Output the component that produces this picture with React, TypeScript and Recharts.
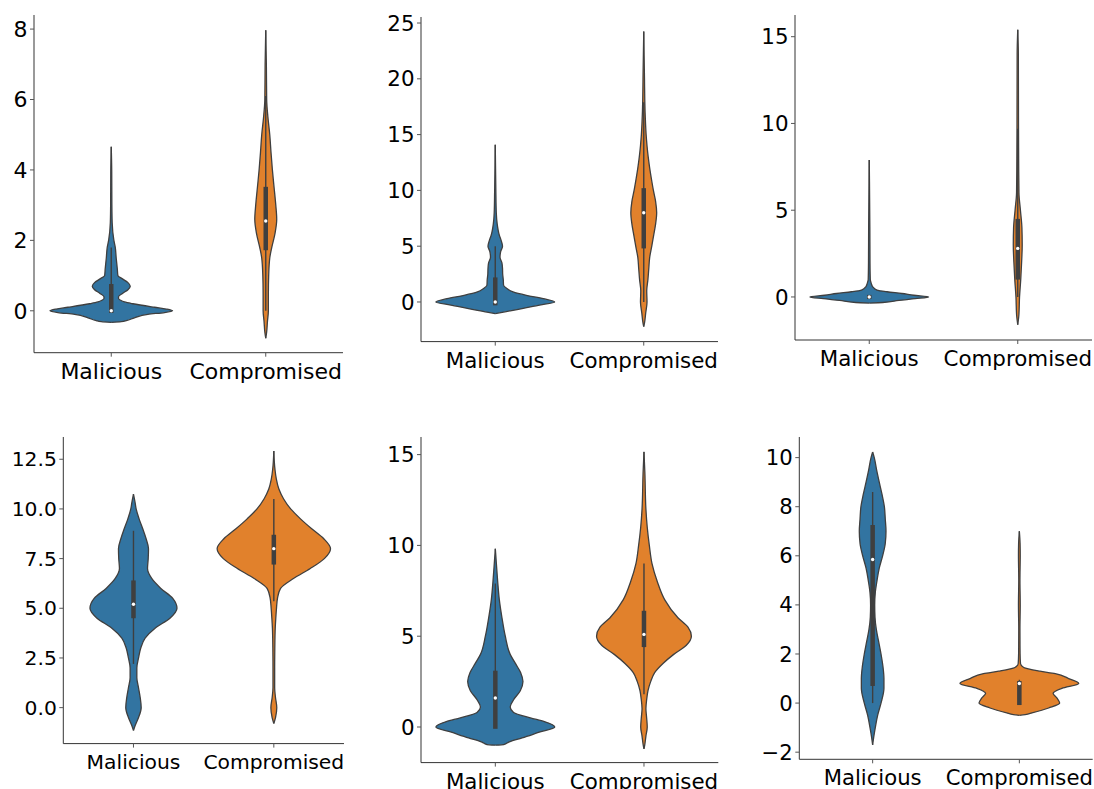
import React from 'react';
import { ComposedChart, Area, XAxis, YAxis, ReferenceLine, ReferenceDot } from 'recharts';

const CATS = ['Malicious', 'Compromised'];
const COLORS = ['#3274a1', '#e1812c'];
const EDGE = '#3f3f3f';

// violin outlines: value levels (v) and half width at that level, in category units
const P1_MAL_V = [-0.33, -0.31, -0.28, -0.2, -0.1, -0.05, 0, 0.05, 0.1, 0.2, 0.25, 0.3, 0.35, 0.4, 0.5, 0.6, 0.7, 0.8, 0.9, 1.0, 1.2, 1.5, 1.8, 2.0, 2.5, 3.0, 4.0, 4.66];
const P1_MAL_W = [0, 0.065, 0.097, 0.15, 0.237, 0.345, 0.397, 0.356, 0.28, 0.14, 0.086, 0.06, 0.047, 0.047, 0.075, 0.108, 0.123, 0.108, 0.075, 0.043, 0.039, 0.032, 0.026, 0.017, 0.006, 0.004, 0.003, 0];
const P1_COMP_V = [-0.78, -0.6, -0.3, 0, 0.5, 1.0, 1.5, 1.8, 2.2, 2.6, 3.0, 3.5, 4.0, 4.5, 5.0, 5.5, 6.0, 7.0, 7.97];
const P1_COMP_W = [0, 0.006, 0.011, 0.017, 0.017, 0.019, 0.026, 0.039, 0.06, 0.071, 0.065, 0.054, 0.043, 0.034, 0.026, 0.014, 0.006, 0.004, 0];

const P2_MAL_V = [-1.05, -0.9, -0.6, -0.3, 0, 0.3, 0.6, 0.9, 1.2, 1.5, 2, 2.5, 3, 3.5, 4, 4.5, 5, 5.5, 6, 7, 8, 10, 14.1];
const P2_MAL_W = [0, 0.056, 0.18, 0.29, 0.4, 0.325, 0.21, 0.12, 0.079, 0.056, 0.054, 0.05, 0.049, 0.045, 0.032, 0.036, 0.049, 0.04, 0.027, 0.013, 0.007, 0.004, 0];
const P2_COMP_V = [-2.2, -1.8, -1, 0, 1, 2, 3, 4, 5, 6, 7, 8, 9, 10, 11, 12, 13, 14, 15, 16, 17, 18, 20, 24.25];
const P2_COMP_W = [0, 0.006, 0.013, 0.022, 0.02, 0.028, 0.034, 0.04, 0.054, 0.067, 0.08, 0.087, 0.08, 0.065, 0.052, 0.04, 0.03, 0.022, 0.016, 0.012, 0.009, 0.007, 0.005, 0];

const P3_MAL_V = [-0.35, -0.32, -0.2, -0.1, 0, 0.1, 0.2, 0.3, 0.4, 0.6, 0.8, 1.0, 2, 4, 7.9];
const P3_MAL_W = [0, 0.09, 0.2, 0.31, 0.4, 0.3, 0.22, 0.12, 0.052, 0.022, 0.013, 0.007, 0.005, 0.004, 0];
const P3_COMP_V = [-1.6, -1, 0, 1, 2, 3, 4, 5, 6, 8, 10, 14, 15.4];
const P3_COMP_W = [0, 0.008, 0.012, 0.02, 0.026, 0.03, 0.028, 0.018, 0.008, 0.006, 0.005, 0.004, 0];

const P4_MAL_V = [-1.15, -0.9, -0.5, 0, 0.5, 1, 1.5, 2, 2.5, 3, 3.5, 4, 4.5, 5, 5.5, 6, 6.5, 7, 7.5, 8, 8.5, 9, 9.5, 10, 10.3, 10.74];
const P4_MAL_W = [0, 0.012, 0.036, 0.055, 0.048, 0.036, 0.024, 0.024, 0.036, 0.052, 0.083, 0.154, 0.26, 0.31, 0.28, 0.195, 0.13, 0.1, 0.105, 0.107, 0.09, 0.066, 0.04, 0.019, 0.012, 0];
const P4_COMP_V = [-0.8, -0.5, 0, 0.5, 1, 2, 3, 4, 4.5, 5, 5.5, 6, 6.5, 7, 7.5, 8, 8.5, 9, 9.5, 10, 10.5, 11, 11.5, 12, 12.92];
const P4_COMP_W = [0, 0.012, 0.021, 0.012, 0.006, 0.006, 0.007, 0.01, 0.014, 0.019, 0.026, 0.048, 0.14, 0.26, 0.36, 0.404, 0.356, 0.27, 0.19, 0.12, 0.07, 0.036, 0.018, 0.008, 0];

const P5_MAL_V = [-1.0, -0.97, -0.83, -0.6, -0.3, 0, 0.3, 0.5, 0.8, 1.1, 1.5, 2, 2.5, 3, 3.5, 4, 5, 6, 7, 8, 9, 9.82];
const P5_MAL_W = [0, 0.056, 0.09, 0.18, 0.29, 0.4, 0.33, 0.236, 0.123, 0.1, 0.123, 0.168, 0.186, 0.17, 0.135, 0.1, 0.067, 0.045, 0.027, 0.016, 0.007, 0];
const P5_COMP_V = [-1.2, -1, -0.5, 0, 0.5, 1, 1.5, 2, 2.5, 3, 3.5, 4, 4.5, 5, 5.5, 6, 7, 8, 9, 10, 11, 12, 14, 15.15];
const P5_COMP_W = [0, 0.005, 0.013, 0.022, 0.018, 0.013, 0.018, 0.027, 0.045, 0.072, 0.128, 0.2, 0.285, 0.319, 0.296, 0.23, 0.14, 0.09, 0.054, 0.036, 0.022, 0.013, 0.006, 0];

const P6_MAL_V = [-1.7, -1.4, -1, -0.5, 0, 0.6, 1, 1.5, 2, 2.5, 3, 3.5, 4, 4.5, 5, 5.5, 6, 6.5, 7, 7.5, 8, 8.5, 9, 9.5, 10, 10.23];
const P6_MAL_W = [0, 0.007, 0.018, 0.034, 0.057, 0.077, 0.077, 0.07, 0.057, 0.041, 0.025, 0.016, 0.014, 0.018, 0.03, 0.045, 0.068, 0.086, 0.091, 0.086, 0.08, 0.064, 0.045, 0.027, 0.011, 0];
const P6_COMP_V = [-0.5, -0.47, -0.4, -0.2, 0, 0.2, 0.4, 0.6, 0.8, 1.0, 1.2, 1.3, 1.45, 1.6, 2, 3, 4, 5, 6, 6.5, 7.0];
const P6_COMP_W = [0, 0.04, 0.086, 0.2, 0.275, 0.257, 0.23, 0.29, 0.405, 0.336, 0.245, 0.14, 0.03, 0.008, 0.005, 0.004, 0.006, 0.004, 0.006, 0.005, 0];

// inner box: [whisker low, q1, median, q3, whisker high]
const P1_BOX = [[0, -0.06, 0, 0.76, 1.8], [0, 1.72, 2.55, 3.52, 6.1]];
const P2_BOX = [[0, -0.3, 0, 2.2, 5], [0, 4.8, 8, 10.2, 17.9]];
const P3_BOX = [[0, -0.12, 0, 0.12, 0], [0, 1, 2.8, 4.5, 9.7]];
const P4_BOX = [[2.2, 4.5, 5.2, 6.4, 8.9], [5.35, 7.2, 8, 8.7, 10.5]];
const P5_BOX = [[0, -0.1, 1.6, 3.1, 7.9], [1.8, 4.4, 5.1, 6.4, 9]];
const P6_BOX = [[0, 0.7, 5.85, 7.25, 8.6], [-0.05, -0.08, 0.8, 0.9, 0.95]];

const P1_TICKS = [0, 2, 4, 6, 8];
const P2_TICKS = [0, 5, 10, 15, 20, 25];
const P3_TICKS = [0, 5, 10, 15];
const P4_TICKS = [0, 2.5, 5, 7.5, 10, 12.5];
const P5_TICKS = [0, 5, 10, 15];
const P6_TICKS = [-2, 0, 2, 4, 6, 8, 10];

const intFmt = (v: number) => (v < 0 ? '\u2212' + Math.abs(v) : String(v));
const oneDec = (v: number) => v.toFixed(1);

const rows = (vs: number[], ws: number[], c: number) => vs.map((v, i) => ({ v, r: [c - ws[i], c + ws[i]] }));

const PANELS = [
  { cl: 0, cr: 360, plot: [34, 15, 343, 352.7], font: 22, domain: [-1.19, 8.4], ticks: P1_TICKS, fmt: intFmt,
    violins: [rows(P1_MAL_V, P1_MAL_W, 0), rows(P1_COMP_V, P1_COMP_W, 1)], boxes: P1_BOX },
  { cl: 365, cr: 735, plot: [421, 16.7, 718, 341.3], font: 21.4, domain: [-3.55, 25.54], ticks: P2_TICKS, fmt: intFmt,
    violins: [rows(P2_MAL_V, P2_MAL_W, 0), rows(P2_COMP_V, P2_COMP_W, 1)], boxes: P2_BOX },
  { cl: 740, cr: 1094, plot: [795, 15, 1092, 340], font: 21.4, domain: [-2.48, 16.25], ticks: P3_TICKS, fmt: intFmt,
    violins: [rows(P3_MAL_V, P3_MAL_W, 0), rows(P3_COMP_V, P3_COMP_W, 1)], boxes: P3_BOX },
  { cl: 0, cr: 360, plot: [63.3, 436.7, 344, 743.3], font: 20.3, domain: [-1.81, 13.62], ticks: P4_TICKS, fmt: oneDec,
    violins: [rows(P4_MAL_V, P4_MAL_W, 0), rows(P4_COMP_V, P4_COMP_W, 1)], boxes: P4_BOX },
  { cl: 365, cr: 735, plot: [421, 436.7, 718.3, 762.3], font: 21.4, domain: [-1.96, 15.97], ticks: P5_TICKS, fmt: intFmt,
    violins: [rows(P5_MAL_V, P5_MAL_W, 0), rows(P5_COMP_V, P5_COMP_W, 1)], boxes: P5_BOX },
  { cl: 740, cr: 1094, plot: [799.3, 436.7, 1092.7, 759], font: 21.2, domain: [-2.29, 10.84], ticks: P6_TICKS, fmt: intFmt,
    violins: [rows(P6_MAL_V, P6_MAL_W, 0), rows(P6_COMP_V, P6_COMP_W, 1)], boxes: P6_BOX },
];

const ViolinPanel = ({ p }: { p: (typeof PANELS)[number] }) => {
  const [pl, pt, pr, pb] = p.plot;
  const top = pt - 12;
  const axisH = 50;
  const width = p.cr - p.cl;
  const height = pb - top + axisH;
  const tickStyle = { fill: '#000', fontSize: p.font, fontFamily: 'DejaVu Sans' };
  return (
    <div style={{ position: 'absolute', left: p.cl, top }}>
      <ComposedChart
        layout="vertical"
        width={width}
        height={height}
        margin={{ top: pt - top, right: p.cr - pr, bottom: 0, left: 0 }}
      >
        <XAxis
          type="number"
          domain={[-0.5, 1.5]}
          ticks={[0, 1]}
          interval={0}
          tickFormatter={(v: number) => CATS[v]}
          height={axisH}
          stroke="#333"
          tickLine={{ stroke: '#555' }}
          tickSize={4}
          tickMargin={7}
          tick={tickStyle}
        />
        <YAxis
          type="number"
          dataKey="v"
          reversed
          domain={p.domain}
          allowDataOverflow
          ticks={p.ticks}
          interval={0}
          tickFormatter={p.fmt}
          width={pl - p.cl}
          stroke="#333"
          tickLine={{ stroke: '#555' }}
          tickSize={4}
          tickMargin={2.5}
          tick={tickStyle}
        />
        {p.violins.map((d, i) => (
          <Area
            key={`v-${i}`}
            data={d}
            dataKey="r"
            type="monotone"
            fill={COLORS[i]}
            fillOpacity={1}
            stroke={EDGE}
            strokeWidth={1.3}
            dot={false}
            activeDot={false}
            isAnimationActive={false}
          />
        ))}
        {p.boxes.map((b, i) => (
          <ReferenceLine
            key={`w-${i}`}
            segment={[{ x: i, y: b[0] }, { x: i, y: b[4] }]}
            stroke={EDGE}
            strokeWidth={1.4}
          />
        ))}
        {p.boxes.map((b, i) => (
          <ReferenceLine
            key={`b-${i}`}
            segment={[{ x: i, y: b[1] }, { x: i, y: b[3] }]}
            stroke={EDGE}
            strokeWidth={4.5}
          />
        ))}
        {p.boxes.map((b, i) => (
          <ReferenceDot key={`m-${i}`} x={i} y={b[2]} r={1.7} fill="#fff" stroke="none" />
        ))}
      </ComposedChart>
    </div>
  );
}

export default function App() {
  return (
    <div style={{ position: 'absolute', left: 0, top: 0, width: 1094, height: 789, background: '#fff', overflow: 'hidden' }}>
      {PANELS.map((p, i) => (
        <ViolinPanel key={i} p={p} />
      ))}
    </div>
  );
}
